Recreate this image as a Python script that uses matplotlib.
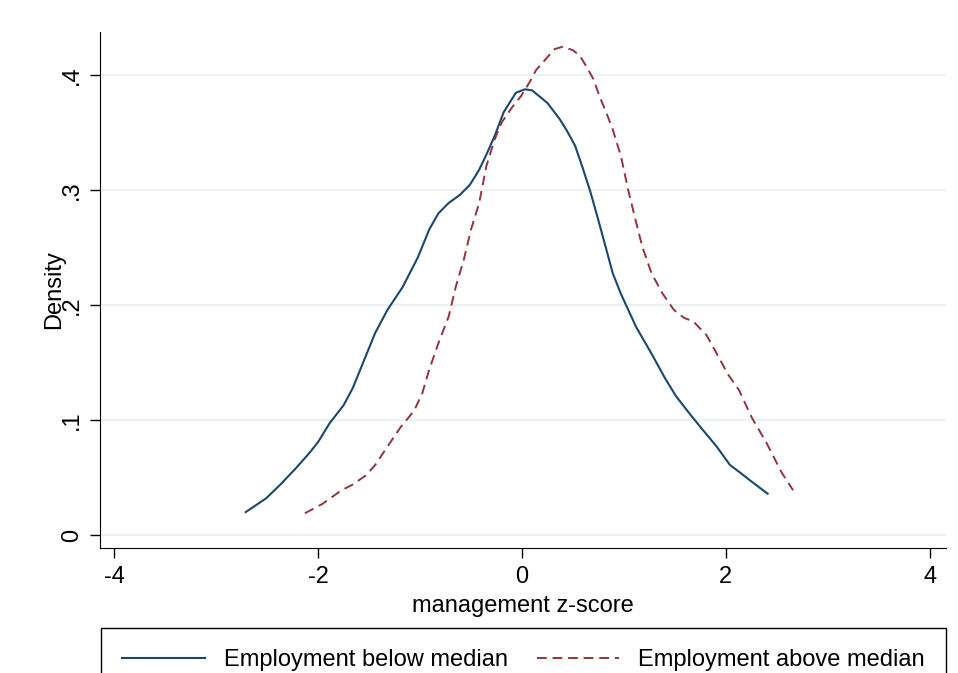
import matplotlib
matplotlib.use("Agg")
import matplotlib.pyplot as plt

# kernel density of management z-score
below_z = [-2.71, -2.51, -2.37, -2.22, -2.09, -2.00, -1.89, -1.75, -1.66, -1.55,
           -1.44, -1.32, -1.17, -1.02, -0.91, -0.82, -0.72, -0.61, -0.51, -0.42,
           -0.35, -0.27, -0.18, -0.06, 0.03, 0.10, 0.25, 0.37, 0.44, 0.52,
           0.59, 0.67, 0.74, 0.82, 0.89, 0.97, 1.12, 1.27, 1.40, 1.51,
           1.65, 1.76, 1.91, 2.04, 2.13, 2.26, 2.41]
below_d = [0.020, 0.032, 0.044, 0.058, 0.071, 0.081, 0.097, 0.113, 0.128, 0.152,
           0.176, 0.196, 0.216, 0.242, 0.266, 0.280, 0.289, 0.296, 0.305, 0.318,
           0.331, 0.347, 0.368, 0.385, 0.388, 0.387, 0.376, 0.362, 0.352, 0.339,
           0.321, 0.299, 0.277, 0.251, 0.228, 0.210, 0.181, 0.158, 0.137, 0.121,
           0.105, 0.093, 0.077, 0.061, 0.055, 0.046, 0.036]

above_z = [-2.13, -1.96, -1.77, -1.66, -1.53, -1.44, -1.32, -1.19, -1.06, -0.98,
           -0.91, -0.82, -0.72, -0.65, -0.57, -0.50, -0.42, -0.35, -0.27, -0.20,
           -0.10, -0.01, 0.08, 0.14, 0.23, 0.32, 0.40, 0.50, 0.57, 0.63,
           0.70, 0.76, 0.83, 0.89, 0.97, 1.04, 1.12, 1.18, 1.27, 1.38,
           1.49, 1.59, 1.68, 1.81, 1.91, 2.02, 2.13, 2.25, 2.40, 2.55, 2.66]
above_d = [0.019, 0.027, 0.039, 0.044, 0.052, 0.061, 0.077, 0.094, 0.108, 0.123,
           0.144, 0.167, 0.190, 0.216, 0.240, 0.266, 0.289, 0.321, 0.344, 0.359,
           0.372, 0.382, 0.395, 0.405, 0.414, 0.423, 0.425, 0.422, 0.417, 0.408,
           0.397, 0.382, 0.367, 0.353, 0.330, 0.301, 0.272, 0.251, 0.228, 0.210,
           0.196, 0.189, 0.186, 0.174, 0.158, 0.140, 0.126, 0.103, 0.080, 0.054, 0.039]

x_ticks = [-4, -2, 0, 2, 4]
y_ticks = [0, 0.1, 0.2, 0.3, 0.4]
y_ticklabels = ["0", ".1", ".2", ".3", ".4"]

plt.rcParams["font.family"] = ["Liberation Sans", "DejaVu Sans"]

fig = plt.figure(figsize=(9.58, 6.73), dpi=100)
ax = fig.add_axes([0.1044, 0.1857, 0.8831, 0.767])

ax.plot(below_z, below_d, color="#1a476f", lw=1.5, label="Employment below median")
ax.plot(above_z, above_d, color="#90353b", lw=1.4, linestyle=(0, (5, 3)),
        label="Employment above median")

ax.set_xlim(-4.14, 4.16)
ax.set_ylim(-0.0113, 0.438)
ax.set_xticks(x_ticks)
ax.set_xticklabels([str(t) for t in x_ticks])
ax.set_yticks(y_ticks)
ax.set_yticklabels(y_ticklabels, rotation=90, va="center")
ax.tick_params(axis="both", direction="out", length=7, width=1, labelsize=17, pad=6)
ax.tick_params(axis="y", pad=5)

ax.grid(axis="y", color="#eaf2f3", lw=1.5)
ax.set_axisbelow(True)
for s in ["top", "right"]:
    ax.spines[s].set_visible(False)

ax.set_xlabel("management z-score", fontsize=17, labelpad=5)
ax.set_ylabel("Density", fontsize=17, labelpad=-3)

leg = ax.legend(loc="upper left", bbox_to_anchor=(0.1054, -0.1, 0.882, 0.1669),
                bbox_transform=fig.transFigure, mode="expand", ncol=2,
                fontsize=17, handlelength=3.5, fancybox=False, edgecolor="black",
                framealpha=1, borderpad=0.9, borderaxespad=0)
leg.get_frame().set_linewidth(1)

plt.savefig("out.png", dpi=100)
